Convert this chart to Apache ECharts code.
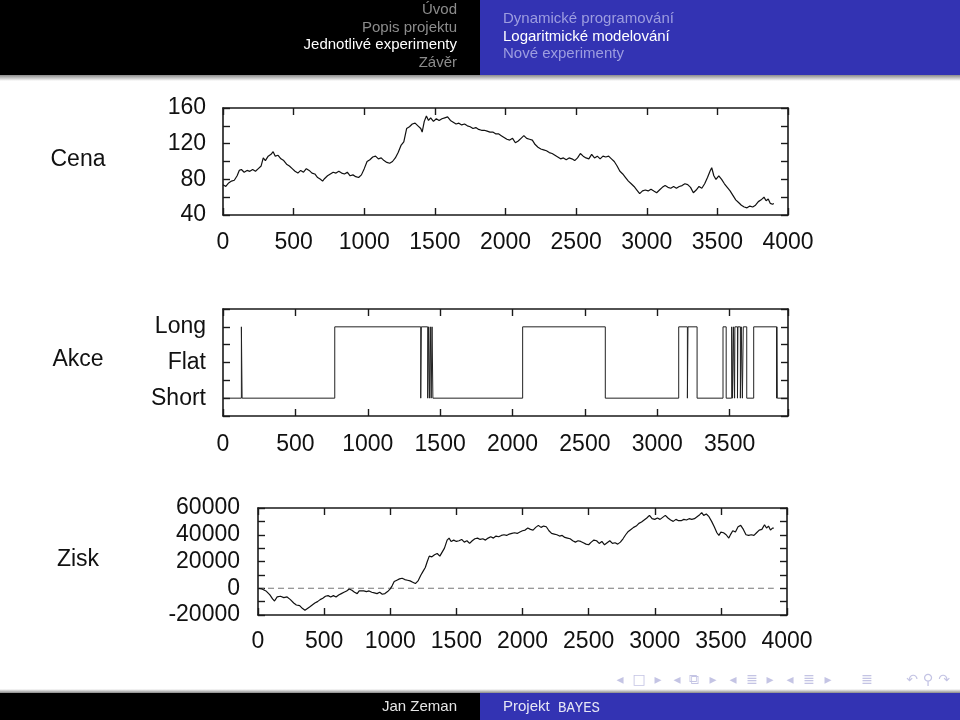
<!DOCTYPE html>
<html>
<head>
	<meta charset="utf-8">
	<title>Logaritmické modelování</title>
	<script src="https://cdn.jsdelivr.net/npm/echarts@6/dist/echarts.min.js"></script>
	<style>
		html, body { margin: 0; padding: 0; background: #fff; }
		#main { width: 960px; height: 720px; }
	</style>
</head>
<body>
<div id="main"></div>
<script>
	// Cena - cena akcie v čase
	var priceT = [0,20,40,60,80,100,115,130,150,170,190,210,230,250,270,285,300,320,340,355,370,390,410,430,450,470,490,510,530,550,570,590,610,630,650,670,690,705,720,740,760,780,800,820,840,860,880,900,920,940,960,980,1000,1020,1040,1060,1080,1100,1120,1140,1160,1180,1200,1220,1240,1260,1280,1300,1320,1340,1360,1380,1400,1410,1425,1440,1455,1470,1490,1510,1530,1550,1570,1590,1610,1630,1650,1670,1690,1710,1730,1750,1770,1790,1810,1830,1850,1870,1890,1910,1930,1950,1970,1990,2010,2030,2050,2070,2090,2110,2130,2150,2170,2190,2210,2230,2250,2270,2290,2310,2330,2350,2370,2390,2410,2430,2450,2470,2490,2510,2530,2550,2570,2590,2610,2630,2650,2670,2690,2710,2730,2750,2770,2790,2810,2830,2850,2870,2890,2910,2930,2950,2970,2990,3010,3030,3050,3070,3090,3110,3130,3150,3170,3190,3210,3230,3250,3270,3290,3310,3330,3350,3370,3390,3410,3430,3450,3460,3475,3490,3510,3530,3550,3570,3590,3610,3630,3650,3670,3690,3710,3730,3750,3770,3790,3810,3830,3845,3860,3875,3890,3900]
	var priceV = [74,72,76,78,79,84,90,91,88,90,89,91,89,92,95,104,101,106,108,111,106,107,103,101,97,95,92,89,87,90,88,92,90,87,86,82,80,78,81,84,86,88,87,89,87,86,88,84,85,83,82,85,92,100,102,105,106,103,104,101,99,98,100,104,110,118,122,137,139,142,143,140,137,133,145,151,146,149,145,148,146,148,149,150,146,144,142,143,141,142,140,139,137,138,136,135,135,134,133,133,131,131,129,127,125,124,126,121,123,126,129,126,125,124,119,116,114,113,112,110,109,107,105,103,104,102,104,103,101,104,109,106,104,103,108,104,106,103,106,105,106,103,100,95,89,86,82,78,75,72,68,64,67,68,67,69,67,65,68,71,73,71,70,72,70,72,73,75,74,71,65,68,72,70,75,82,90,93,84,80,84,80,75,71,67,62,57,54,51,49,48,50,49,51,55,57,60,56,58,53,52,53]

	// Akce - okamžiky změny pozice a nová pozice (1 Long, 0 Flat, -1 Short)
	var actT = [0,127,132,772,1366,1370,1414,1420,1426,1432,1438,1444,1450,2070,2641,3148,3208,3212,3275,3454,3476,3514,3520,3526,3534,3536,3554,3557,3574,3580,3588,3594,3618,3666,3824,3826,3829,3903]
	var actS = [-1,1,-1,1,-1,1,-1,1,-1,1,-1,1,-1,1,-1,1,-1,1,-1,1,-1,1,-1,1,-1,1,-1,1,-1,1,-1,1,-1,1,-1,1,-1,-1]
	var actNames = {'1': 'Long', '0': 'Flat', '-1': 'Short'}

	// Zisk
	var profitT = [0,30,60,90,110,125,145,170,195,220,245,270,290,315,335,355,370,390,410,430,450,470,490,510,530,550,570,590,610,630,650,670,690,710,730,750,765,780,800,820,840,860,880,900,920,940,960,980,1000,1015,1030,1050,1070,1090,1110,1130,1150,1170,1190,1210,1230,1250,1265,1280,1295,1315,1335,1355,1375,1390,1410,1430,1445,1460,1480,1500,1520,1540,1560,1580,1600,1620,1640,1660,1680,1700,1720,1740,1760,1780,1800,1820,1840,1860,1880,1900,1920,1940,1960,1980,2000,2020,2040,2060,2080,2100,2120,2140,2160,2180,2200,2220,2240,2260,2280,2300,2320,2340,2360,2380,2400,2420,2440,2460,2480,2500,2520,2540,2560,2580,2600,2620,2640,2660,2680,2700,2720,2740,2760,2780,2800,2820,2840,2860,2880,2900,2920,2940,2960,2980,3000,3020,3040,3060,3080,3100,3120,3140,3160,3180,3200,3220,3240,3260,3280,3300,3320,3340,3355,3370,3390,3410,3430,3450,3470,3485,3500,3520,3540,3560,3575,3590,3610,3630,3650,3670,3690,3710,3730,3750,3770,3790,3810,3830,3845,3860,3875,3890,3900]
	var profitV = [0,-500,-2000,-5000,-8000,-9500,-6500,-6000,-7000,-6500,-8500,-11000,-12500,-13000,-15000,-16500,-15500,-14000,-12500,-11000,-10000,-8500,-7500,-6000,-5500,-6500,-5500,-6500,-5000,-4000,-3000,-2000,-500,-1500,-3000,-4000,-2000,-1000,-2000,-2500,-2000,-3000,-3500,-4000,-3000,-4500,-4000,-2500,-500,2000,5000,6000,7000,7500,6500,6000,5500,4500,3500,5500,9500,13000,15500,20000,24000,23500,25000,26000,24000,23500,30000,36000,37500,35000,36000,35000,35500,36500,34500,35500,33500,35500,37000,37500,36500,37000,36000,37500,38500,37500,39000,38500,39500,40000,39500,40500,41000,41500,41000,42000,43000,43500,45000,44000,43500,45500,47000,45500,46500,46000,43000,41000,40500,40000,39000,39500,38000,37500,37000,35500,34500,35500,35000,34000,33000,32500,34500,36000,35500,33500,35000,32500,34000,35500,33500,34000,33000,34500,37000,40000,42500,44000,45500,46500,48500,49500,51000,52500,54500,52000,51500,52500,51500,53000,54500,52500,51000,50000,51500,50500,50500,51500,51000,52000,51500,52000,53500,55000,56500,54500,55500,53500,50000,46000,41500,39500,42000,41500,40000,37500,40500,43000,42000,46000,47000,44000,40000,39500,40000,39500,41500,43500,44000,47500,45000,46500,43500,45000,45000]
	var zeroLine = [[0, 0], [3900, 0]]

	var rowLabels = ['Cena', 'Akce', 'Zisk']
	var navLeft = ['Úvod', 'Popis projektu', 'Jednotlivé experimenty', 'Závěr']
	var navRight = ['Dynamické programování', 'Logaritmické modelování', 'Nové experimenty']

	function zip(a, b) {
		var out = []
		for (var i = 0; i < a.length; i++) out.push([a[i], b[i]])
		return out
	}

	var FONT = '"Liberation Sans", Arial, sans-serif'
	var ink = '#1a1a1a'

	function axis(grid, pos, min, max, interval, labels, fmt, margin) {
		return {
			type: 'value', gridIndex: grid, position: pos,
			min: min, max: max, interval: interval,
			axisLine: { show: true, onZero: false, lineStyle: { color: ink, width: 1.6 } },
			axisTick: { show: true, inside: true, length: 7, lineStyle: { color: ink, width: 1.4 } },
			axisLabel: { show: labels, formatter: fmt, margin: margin, color: '#111', fontSize: 23, fontFamily: FONT },
			splitLine: { show: false }
		}
	}

	var xFmt = function (v) { return v % 500 === 0 ? String(v) : '' }
	var y1Fmt = function (v) { return v % 40 === 0 ? String(v) : '' }
	var y2Fmt = function (v) { return actNames[String(v)] || '' }
	var y3Fmt = function (v) { return v % 20000 === 0 ? String(v) : '' }

	var graphic = [
		{ type: 'rect', shape: { x: 0, y: 0, width: 480, height: 75 }, style: { fill: '#000' } },
		{ type: 'rect', shape: { x: 480, y: 0, width: 480, height: 75 }, style: { fill: '#3333b3' } },
		{ type: 'rect', shape: { x: 0, y: 75, width: 960, height: 6 }, style: { fill: new echarts.graphic.LinearGradient(0, 0, 0, 1, [{ offset: 0, color: '#8a8a8a' }, { offset: 1, color: '#ffffff' }]) } },
		{ type: 'rect', shape: { x: 0, y: 689, width: 960, height: 4 }, style: { fill: new echarts.graphic.LinearGradient(0, 0, 0, 1, [{ offset: 0, color: '#ffffff' }, { offset: 1, color: '#8a8a8a' }]) } },
		{ type: 'rect', shape: { x: 0, y: 693, width: 480, height: 27 }, style: { fill: '#000' } },
		{ type: 'rect', shape: { x: 480, y: 693, width: 480, height: 27 }, style: { fill: '#3333b3' } },
		{ type: 'text', style: { text: 'Jan Zeman', x: 457, y: 707, textAlign: 'right', textVerticalAlign: 'middle', fill: '#e6e6e6', font: '15px ' + FONT } },
		{ type: 'text', style: { text: 'Projekt', x: 503, y: 707, textAlign: 'left', textVerticalAlign: 'middle', fill: '#e6e6f5', font: '15px ' + FONT } },
		{ type: 'text', style: { text: 'BAYES', x: 558, y: 708, textAlign: 'left', textVerticalAlign: 'middle', fill: '#e6e6f5', font: '14px "Liberation Mono", "DejaVu Sans Mono", monospace' } }
	]
	navLeft.forEach(function (t, i) {
		graphic.push({ type: 'text', style: { text: t, x: 457, y: 10 + i * 17.5, textAlign: 'right', textVerticalAlign: 'middle', fill: i === 2 ? '#ffffff' : '#8c8c8c', font: '15px ' + FONT } })
	})
	navRight.forEach(function (t, i) {
		graphic.push({ type: 'text', style: { text: t, x: 503, y: 19 + i * 17.5, textAlign: 'left', textVerticalAlign: 'middle', fill: i === 1 ? '#ffffff' : '#9d9de0', font: '15px ' + FONT } })
	})
	var rowY = [160, 360, 560]
	var rowX = [78, 78, 78]
	rowLabels.forEach(function (t, i) {
		graphic.push({ type: 'text', style: { text: t, x: rowX[i], y: rowY[i], textAlign: 'center', textVerticalAlign: 'middle', fill: '#111', font: '23px ' + FONT } })
	})
	// navigacni symboly beameru
	var navSym = [['◂', 620], ['□', 639], ['▸', 658], ['◂', 677], ['⧉', 694], ['▸', 713], ['◂', 733], ['≣', 752], ['▸', 770], ['◂', 790], ['≣', 809], ['▸', 828], ['≣', 867], ['↶', 912], ['⚲', 928], ['↷', 944]]
	navSym.forEach(function (s) {
		graphic.push({ type: 'text', style: { text: s[0], x: s[1], y: 680, textAlign: 'center', textVerticalAlign: 'middle', fill: '#c4c4e4', font: '14px "DejaVu Sans", sans-serif' } })
	})

	var myChart = echarts.init(document.getElementById('main'))
	var option = {
		animation: false,
		backgroundColor: '#ffffff',
		grid: [
			{ left: 223, top: 108, width: 565, height: 107 },
			{ left: 223, top: 309, width: 565, height: 107 },
			{ left: 258, top: 508, width: 529, height: 107 }
		],
		xAxis: [
			axis(0, 'bottom', 0, 4000, 500, true, xFmt, 16),
			axis(0, 'top', 0, 4000, 500, false),
			axis(1, 'bottom', 0, 3903, 500, true, xFmt, 17),
			axis(1, 'top', 0, 3903, 500, false),
			axis(2, 'bottom', 0, 4000, 500, true, xFmt, 15),
			axis(2, 'top', 0, 4000, 500, false)
		],
		yAxis: [
			axis(0, 'left', 40, 160, 20, true, y1Fmt, 17),
			axis(0, 'right', 40, 160, 20, false),
			axis(1, 'left', -1.5, 1.5, 0.5, true, y2Fmt, 17),
			axis(1, 'right', -1.5, 1.5, 0.5, false),
			axis(2, 'left', -20000, 60000, 10000, true, y3Fmt, 18),
			axis(2, 'right', -20000, 60000, 10000, false)
		],
		series: [
			{ type: 'line', xAxisIndex: 0, yAxisIndex: 0, data: zip(priceT, priceV), showSymbol: false, lineStyle: { color: '#111', width: 1.2 } },
			{ type: 'line', xAxisIndex: 2, yAxisIndex: 2, data: zip(actT, actS), step: 'end', showSymbol: false, lineStyle: { color: '#222', width: 1 } },
			{ type: 'line', xAxisIndex: 4, yAxisIndex: 4, data: zeroLine, showSymbol: false, lineStyle: { color: '#777', width: 1.2, type: [6, 4] } },
			{ type: 'line', xAxisIndex: 4, yAxisIndex: 4, data: zip(profitT, profitV), showSymbol: false, lineStyle: { color: '#111', width: 1.2 } }
		],
		graphic: graphic
	}
	myChart.setOption(option)
</script>
</body>
</html>
